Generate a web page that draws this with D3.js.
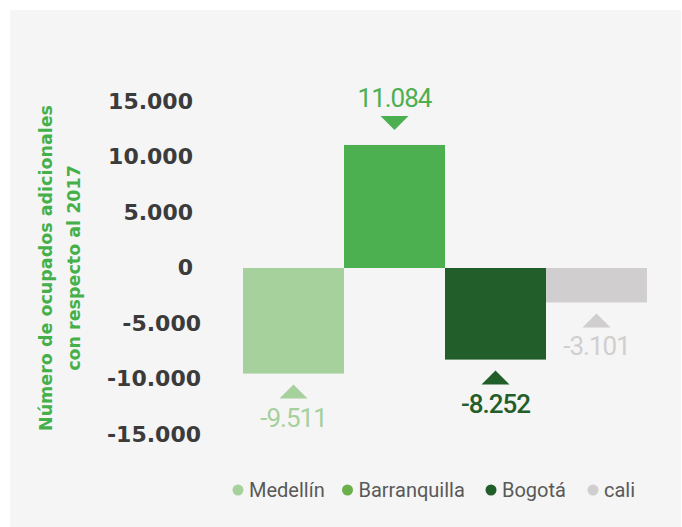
<!DOCTYPE html>
<html>
<head>
<meta charset="utf-8">
<script src="https://cdn.jsdelivr.net/npm/d3@7"></script>
<style>
  html, body { margin: 0; padding: 0; background: #fff; }
  svg { display: block; }
</style>
</head>
<body>
<div id="chart"></div>
<script>
// data
const cities = ["Medellín", "Barranquilla", "Bogotá", "cali"];
const values = [-9511, 11084, -8252, -3101];
const colors = ["#a6d09c", "#4caf50", "#225e29", "#d0cecf"];
const legendColors = ["#a6d09c", "#6ab04c", "#225e29", "#d0cecf"];
const yTicks = [15000, 10000, 5000, 0, -5000, -10000, -15000];
const axisTitle = ["Número de ocupados adicionales", "con respecto al 2017"];

const width = 682, height = 527;
const fmt = d3.formatLocale({ decimal: ",", thousands: ".", grouping: [3], currency: ["", ""], minus: "-" }).format(",d");

const svg = d3.select("#chart").append("svg")
    .attr("width", width)
    .attr("height", height);

svg.append("rect")
    .attr("x", 10).attr("y", 10)
    .attr("width", 671).attr("height", 517)
    .attr("fill", "#f5f5f5");

const x = d3.scaleBand().domain(cities).range([243, 647]).padding(0);
const y = d3.scaleLinear().domain([-15000, 15000]).range([434.5, 101.5]);

// y axis
const yAxis = svg.append("g")
    .attr("transform", "translate(193,0)")
    .call(d3.axisLeft(y).tickValues(yTicks).tickFormat(fmt).tickSize(0).tickPadding(0));
yAxis.select(".domain").remove();
yAxis.selectAll("text")
    .attr("x", d => d < 0 ? 8 : 0)
    .attr("dy", "0.3em")
    .attr("fill", "#3b3b3b")
    .style("font-family", "'DejaVu Sans', sans-serif")
    .style("font-weight", "bold")
    .style("font-size", "22px");

// axis title
const title = svg.append("text")
    .attr("transform", "translate(0,268) rotate(-90)")
    .attr("text-anchor", "middle")
    .attr("fill", "#45b04a")
    .style("font-family", "'DejaVu Sans', sans-serif")
    .style("font-weight", "bold")
    .style("font-size", "17.5px");
title.selectAll("tspan").data(axisTitle).join("tspan")
    .attr("x", 0)
    .attr("y", (d, i) => 52 + i * 28)
    .text(d => d);

// bars
svg.selectAll(".bar").data(values).join("rect")
    .attr("class", "bar")
    .attr("x", (d, i) => x(cities[i]))
    .attr("width", x.bandwidth())
    .attr("y", d => y(Math.max(0, d)))
    .attr("height", d => Math.abs(y(d) - y(0)))
    .attr("fill", (d, i) => colors[i]);

// triangles and value labels
const tri = 14, gap = 11;
svg.selectAll(".marker").data(values).join("path")
    .attr("class", "marker")
    .attr("fill", (d, i) => colors[i])
    .attr("d", (d, i) => {
        const cx = x(cities[i]) + x.bandwidth() / 2;
        if (d >= 0) {
            const tip = y(d) - 15;
            return `M${cx - tri},${tip - tri}L${cx + tri},${tip - tri}L${cx},${tip}Z`;
        }
        const tip = y(d) + gap;
        return `M${cx - tri},${tip + tri}L${cx + tri},${tip + tri}L${cx},${tip}Z`;
    });

svg.selectAll(".val").data(values).join("text")
    .attr("class", "val")
    .attr("x", (d, i) => x(cities[i]) + x.bandwidth() / 2)
    .attr("y", d => d >= 0 ? y(d) - 38 : y(d) + gap + tri + 28)
    .attr("text-anchor", "middle")
    .attr("fill", (d, i) => colors[i])
    .style("font-family", "Roboto, sans-serif")
    .style("font-size", "26px")
    .style("font-weight", (d, i) => i === 2 ? "500" : "normal")
    .style("letter-spacing", "-1px")
    .text(d => fmt(d));

// legend
const legendX = [238, 347.5, 491, 593];
const legend = svg.selectAll(".leg").data(cities).join("g")
    .attr("class", "leg")
    .attr("transform", (d, i) => `translate(${legendX[i]},490)`);
legend.append("circle")
    .attr("r", 5.5)
    .attr("fill", (d, i) => legendColors[i]);
legend.append("text")
    .attr("x", 11)
    .attr("dy", "0.35em")
    .attr("fill", "#595959")
    .style("font-family", "Roboto, sans-serif")
    .style("font-size", "20px")
    .text(d => d);
</script>
</body>
</html>
